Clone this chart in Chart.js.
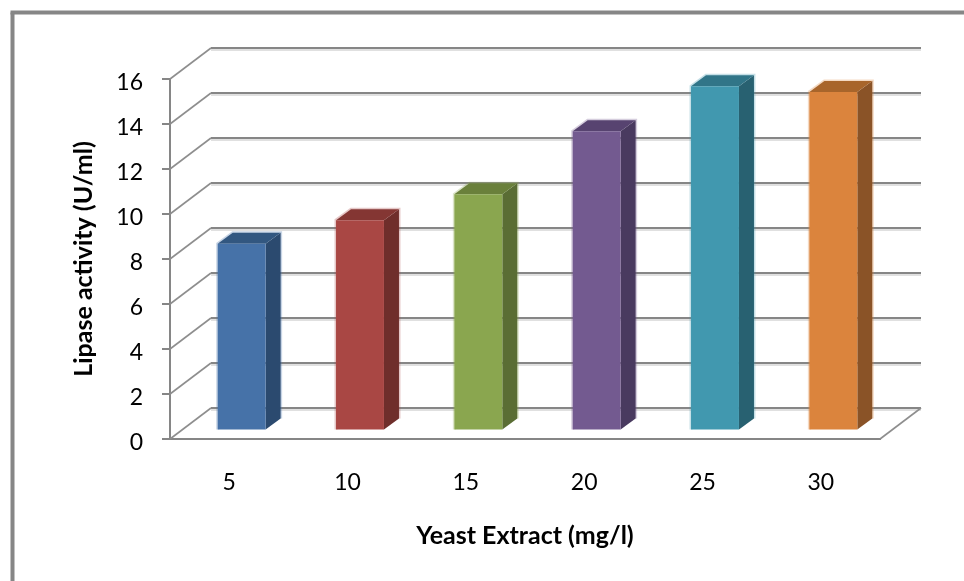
<!DOCTYPE html>
<html>
<head>
<meta charset="utf-8">
<title>Lipase activity</title>
<script src="https://cdn.jsdelivr.net/npm/chart.js@4/dist/chart.umd.min.js"></script>
<style>
    html, body { margin: 0; padding: 0; background: #fff; }
    canvas { display: block; }
</style>
</head>
<body>
<canvas id="lipase" width="964" height="581"></canvas>
<script>
var categories = ["5", "10", "15", "20", "25", "30"];
var lipaseValues = [8.3, 9.35, 10.5, 13.3, 15.3, 15.05];
var frontColors = ["#4672a8", "#a94744", "#8aa64f", "#735a90", "#4198af", "#db843d"];
var topColors = ["#325780", "#843633", "#6a803b", "#574370", "#317588", "#a8652b"];
var sideColors = ["#2b4a6f", "#6f2e2b", "#5a6d34", "#493a5f", "#286171", "#8a5327"];

var GRID = "#868686";
// perspective of the box: how far the back wall sits from the front plane
var DEPTH_X = 41;
var DEPTH_Y = 31;
// bars stand part way into the floor, and have their own depth
var BAR_SHIFT_X = 12.5;
var BAR_SHIFT_Y = 8.5;
var BAR_DEPTH_X = 15;
var BAR_DEPTH_Y = 11;

function line(ctx, x1, y1, x2, y2, width, color) {
    ctx.beginPath();
    ctx.moveTo(x1, y1);
    ctx.lineTo(x2, y2);
    ctx.lineWidth = width;
    ctx.strokeStyle = color;
    ctx.stroke();
}

function poly(ctx, pts, color) {
    ctx.beginPath();
    ctx.moveTo(pts[0][0], pts[0][1]);
    for (var i = 1; i < pts.length; i++) {
        ctx.lineTo(pts[i][0], pts[i][1]);
    }
    ctx.closePath();
    ctx.fillStyle = color;
    ctx.fill();
}

var box3d = {
    id: "box3d",
    beforeDraw: function (chart) {
        var ctx = chart.ctx;
        ctx.save();
        // frame round the figure, only top and left are there
        line(ctx, 12.5, 581, 12.5, 12.5, 4, GRID);
        line(ctx, 10.5, 12.5, 964, 12.5, 4, GRID);
        ctx.restore();
    },
    beforeDatasetsDraw: function (chart) {
        var ctx = chart.ctx;
        var area = chart.chartArea;
        var yScale = chart.scales.y;
        ctx.save();

        // back wall lines and the diagonals on the left wall
        yScale.ticks.forEach(function (tick) {
            var y = yScale.getPixelForValue(tick.value);
            line(ctx, area.left + DEPTH_X, y - DEPTH_Y + 2, area.right + DEPTH_X, y - DEPTH_Y + 2, 2, "#e0e0e0");
            line(ctx, area.left + DEPTH_X, y - DEPTH_Y, area.right + DEPTH_X, y - DEPTH_Y, 2, GRID);
            line(ctx, area.left, y, area.left + DEPTH_X, y - DEPTH_Y, 1.6, "#8e8e8e");
        });
        // floor edge on the right
        line(ctx, area.right, area.bottom, area.right + DEPTH_X, area.bottom - DEPTH_Y, 1.6, "#8e8e8e");

        // side and top faces, the front face is the bar itself
        var meta = chart.getDatasetMeta(0);
        meta.data.forEach(function (bar, i) {
            var p = bar.getProps(["x", "y", "base", "width"], true);
            var right = p.x + p.width / 2 + BAR_SHIFT_X;
            var left = p.x - p.width / 2 + BAR_SHIFT_X;
            var top = p.y - BAR_SHIFT_Y;
            var base = p.base - BAR_SHIFT_Y;

            // pale rim round the outline of each bar
            ctx.beginPath();
            ctx.moveTo(left, base);
            ctx.lineTo(left, top);
            ctx.lineTo(left + BAR_DEPTH_X, top - BAR_DEPTH_Y);
            ctx.lineTo(right + BAR_DEPTH_X, top - BAR_DEPTH_Y);
            ctx.lineTo(right + BAR_DEPTH_X, base - BAR_DEPTH_Y);
            ctx.lineWidth = 3;
            ctx.strokeStyle = frontColors[i] + "4d";
            ctx.stroke();

            poly(ctx, [[right, top], [right + BAR_DEPTH_X, top - BAR_DEPTH_Y],
                [right + BAR_DEPTH_X, base - BAR_DEPTH_Y], [right, base]], sideColors[i]);
            poly(ctx, [[left, top], [left + BAR_DEPTH_X, top - BAR_DEPTH_Y],
                [right + BAR_DEPTH_X, top - BAR_DEPTH_Y], [right, top]], topColors[i]);
        });
        ctx.restore();
    },
    beforeDatasetDraw: function (chart) {
        chart.ctx.save();
        chart.ctx.translate(BAR_SHIFT_X, -BAR_SHIFT_Y);
    },
    afterDatasetDraw: function (chart) {
        chart.ctx.restore();
    }
};

new Chart(document.getElementById("lipase").getContext("2d"), {
    type: "bar",
    data: {
        labels: categories,
        datasets: [{
            label: "Lipase activity",
            data: lipaseValues,
            backgroundColor: frontColors,
            barPercentage: 0.405,
            categoryPercentage: 1,
            clip: false
        }]
    },
    plugins: [box3d],
    options: {
        responsive: false,
        animation: false,
        layout: {
            padding: { left: 0, top: 79, right: 84, bottom: 0 }
        },
        scales: {
            y: {
                min: 0,
                max: 16,
                afterFit: function (scale) { scale.width = 170; },
                // tick numbers sit a little under their tick marks
                afterUpdate: function (scale) {
                    var drawLabels = scale.drawLabels;
                    scale.drawLabels = function (area) {
                        scale.ctx.save();
                        scale.ctx.translate(0, 2);
                        drawLabels.call(scale, area);
                        scale.ctx.restore();
                    };
                },
                title: {
                    display: true,
                    text: "Lipase activity (U/ml)",
                    color: "#000",
                    font: { family: "Lato", size: 25, weight: "bold" },
                    padding: { top: 69, bottom: 0 }
                },
                ticks: {
                    stepSize: 2,
                    color: "#000",
                    padding: 19,
                    font: { family: "Lato", size: 23 }
                },
                grid: {
                    drawOnChartArea: false,
                    color: GRID,
                    lineWidth: 2,
                    tickLength: 8
                },
                border: { color: GRID, width: 2 }
            },
            x: {
                afterFit: function (scale) { scale.height = 142; },
                title: {
                    display: true,
                    text: "Yeast Extract (mg/l)",
                    color: "#000",
                    font: { family: "Lato", size: 25, weight: "bold" },
                    padding: { top: 0, bottom: 30 }
                },
                ticks: {
                    color: "#000",
                    padding: 22,
                    font: { family: "Lato", size: 23 }
                },
                grid: { display: false },
                border: { color: GRID, width: 2 }
            }
        },
        plugins: {
            legend: { display: false },
            tooltip: { enabled: false }
        }
    }
});
</script>
</body>
</html>
